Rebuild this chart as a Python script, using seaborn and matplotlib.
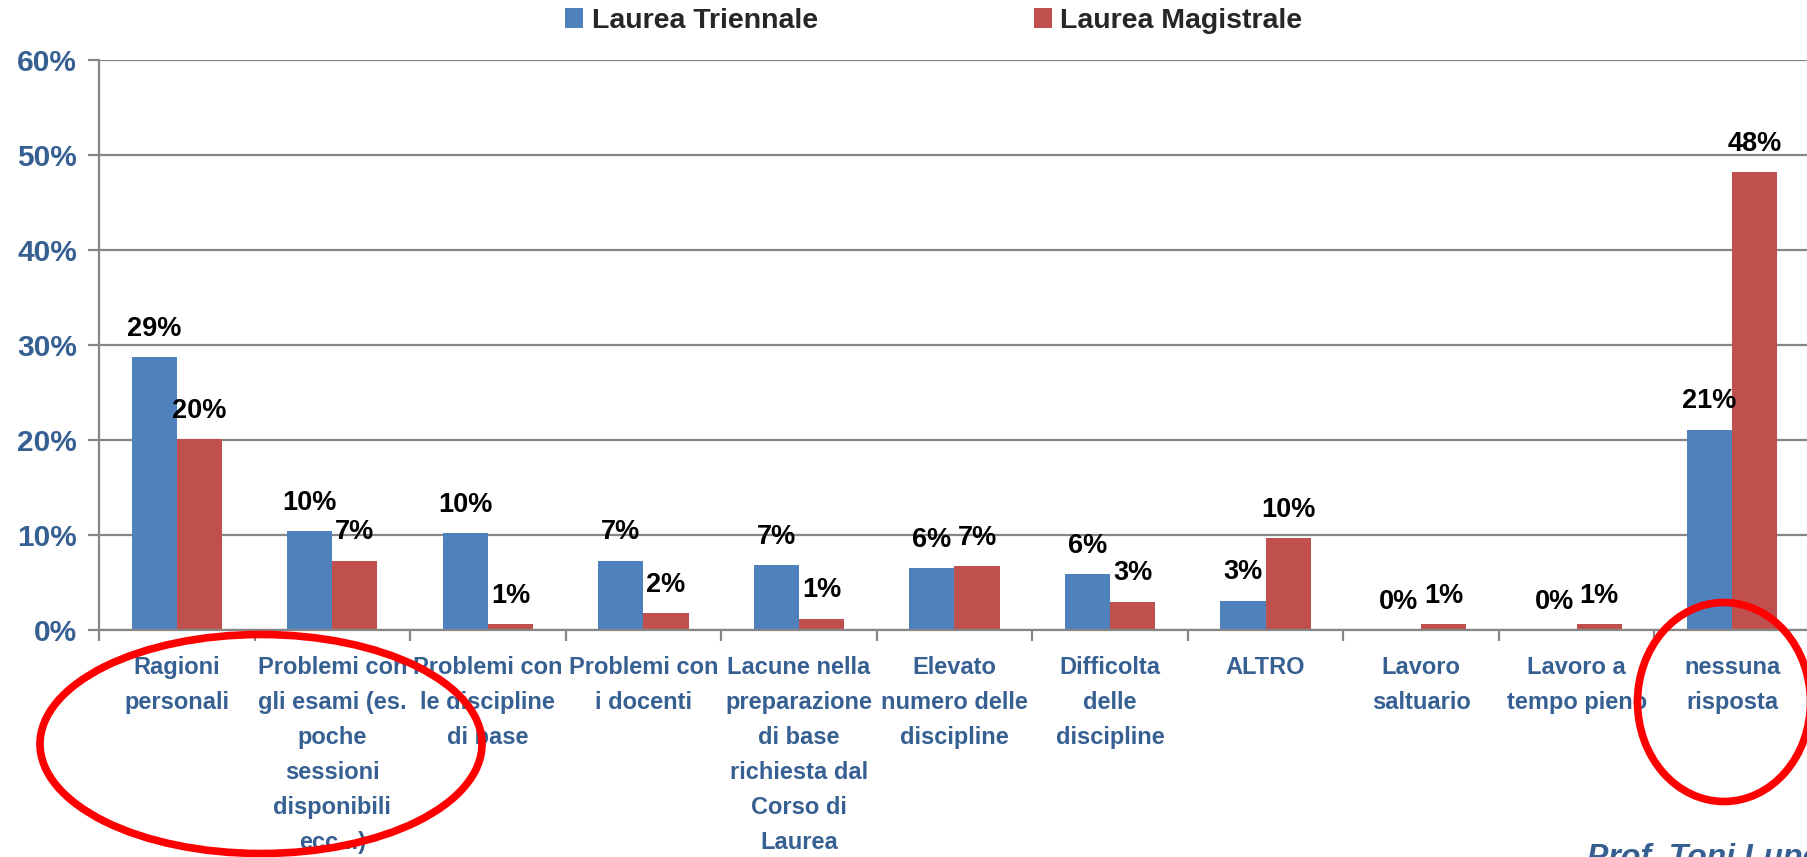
import matplotlib
matplotlib.use("Agg")
import matplotlib.pyplot as plt
import seaborn as sns
import pandas as pd
import numpy as np
from matplotlib.patches import Ellipse
from matplotlib.ticker import FixedLocator, PercentFormatter

# ---- data ----
categories = [
    "Ragioni\npersonali",
    "Problemi con\ngli esami (es.\npoche\nsessioni\ndisponibili\necc...)",
    "Problemi con\nle discipline\ndi base",
    "Problemi con\ni docenti",
    "Lacune nella\npreparazione\ndi base\nrichiesta dal\nCorso di\nLaurea",
    "Elevato\nnumero delle\ndiscipline",
    "Difficolta\ndelle\ndiscipline",
    "ALTRO",
    "Lavoro\nsaltuario",
    "Lavoro a\ntempo pieno",
    "nessuna\nrisposta",
]
series_names = ["Laurea Triennale", "Laurea Magistrale"]
triennale = [28.7, 10.4, 10.2, 7.3, 6.8, 6.5, 5.9, 3.1, 0.0, 0.0, 21.1]
magistrale = [20.1, 7.3, 0.6, 1.8, 1.2, 6.7, 3.0, 9.7, 0.6, 0.6, 48.2]
y_ticks = [0, 10, 20, 30, 40, 50, 60]
footer = "Prof. Toni Lupo"

BLUE = "#4F81BD"
RED = "#C0504D"
LBLUE = "#376092"
GRID = "#868686"

df = pd.DataFrame({
    "cat": categories * 2,
    "val": triennale + magistrale,
    "serie": [series_names[0]] * len(categories) + [series_names[1]] * len(categories),
})

sns.set_style("white")
plt.rcParams["font.family"] = ["Liberation Sans", "DejaVu Sans"]
plt.rcParams["font.weight"] = "bold"

W, H = 1808, 857
fig = plt.figure(figsize=(W / 100, H / 100), dpi=100)
ax = fig.add_axes([99 / W, 1 - 630 / H, 1711 / W, 570 / H])

sns.barplot(data=df, x="cat", y="val", hue="serie", palette=[BLUE, RED],
            width=0.58, saturation=1, ax=ax, legend=True, linewidth=0)

for cont in ax.containers:
    ax.bar_label(cont, labels=[f"{v:.0f}%" for v in cont.datavalues],
                 padding=11, fontsize=19.5, fontweight="bold", color="black")

ax.set_ylim(0, 60)
ax.set_xlim(-0.5, len(categories) - 0.5)
ax.set_yticks(y_ticks)
ax.yaxis.set_major_formatter(PercentFormatter(decimals=0))
ax.set_xlabel("")
ax.set_ylabel("")

ax.grid(axis="y", color=GRID, lw=1.6)
ax.set_axisbelow(True)
for s in ["top", "right"]:
    ax.spines[s].set_visible(False)
for s in ["left", "bottom"]:
    ax.spines[s].set_color(GRID)
    ax.spines[s].set_linewidth(1.6)

ax.tick_params(axis="y", which="major", left=True, length=8, width=1.6, color=GRID,
               labelsize=21.5, labelcolor=LBLUE, pad=8)
for lab in ax.get_yticklabels():
    lab.set_fontweight("bold")

ax.xaxis.set_minor_locator(FixedLocator(np.arange(-0.5, len(categories), 1.0)))
ax.tick_params(axis="x", which="minor", bottom=True, length=8, width=1.6, color=GRID)
ax.tick_params(axis="x", which="major", bottom=False, length=0, pad=19,
               labelsize=17, labelcolor=LBLUE)
for lab in ax.get_xticklabels():
    lab.set_fontweight("bold")
    lab.set_linespacing(1.66)
    lab.set_va("top")

leg = ax.legend(loc="center", bbox_to_anchor=(934 / W, 1 - 21 / H),
                bbox_transform=fig.transFigure, ncol=2, frameon=False,
                handlelength=0.62, handleheight=0.7, handletextpad=0.3,
                columnspacing=7.6, prop={"size": 20.5, "weight": "bold"})

# annotations (red ellipses)
fig.add_artist(Ellipse((261 / W, 1 - 744 / H), 442 / W, 219 / H,
                       transform=fig.transFigure, fill=False, ec="#FF0000", lw=5.5))
fig.add_artist(Ellipse((1724 / W, 1 - 702 / H), 173 / W, 199 / H,
                       transform=fig.transFigure, fill=False, ec="#FF0000", lw=5.5))

fig.text(1587 / W, 1 - 843 / H, footer, fontsize=23, fontstyle="italic",
         fontweight="bold", color=LBLUE, ha="left", va="top")

fig.savefig("out.png", dpi=100)
